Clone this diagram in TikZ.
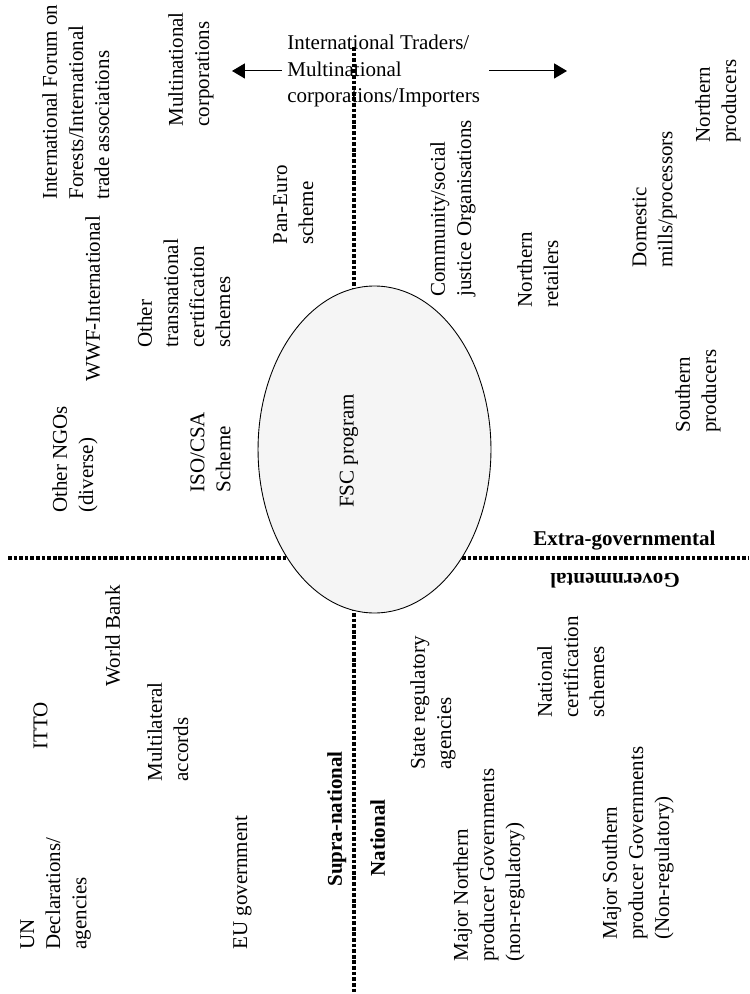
\documentclass[tikz,border=0pt]{standalone}
\usepackage{fontspec}
\setmainfont{Liberation Serif}
\usetikzlibrary{shapes.geometric,arrows.meta}

\begin{document}
\begin{tikzpicture}[x=0.571pt,y=-0.571pt,
    font=\fontsize{12pt}{14.9pt}\selectfont,
    actor/.style={rotate=90,anchor=north west,align=left,inner sep=0pt},
    divide/.style={line width=1.8pt,dash pattern=on 2.1pt off 1.1pt},
    flow/.style={-{Triangle[length=7.3pt,width=8.5pt]},line width=0.6pt}]
    \useasboundingbox (0,0) rectangle (749,994);
    \coordinate (vtop) at (354,47);
    \coordinate (vbot) at (354,994);
    \coordinate (hleft) at (8,558);
    \coordinate (hright) at (749,558);
    \draw[divide] (vtop) -- (vbot);
    \draw[divide] (hleft) -- (hright);
    \node[ellipse,draw,fill=gray!8,line width=0.5pt,inner sep=0pt,
        minimum width=133pt,minimum height=186.7pt] (fsc) at (374.5,449.5) {};
    \node[rotate=90] (fsclabel) at (349,451) {FSC program};
    \node[actor] (forum) at (42,200) {International Forum on\\Forests/International\\trade associations};
    \node[actor] (multinat) at (168,127) {Multinational\\corporations};
    \node[anchor=north west,align=left,inner sep=0pt] (traders) at (287,35)
        {International Traders/\\Multinational\\corporations/Importers};
    \coordinate (lhead) at (232,74);
    \coordinate (rhead) at (567,72);
    \draw[flow] ([xshift=-3pt]traders.west) -- (traders.west -| lhead);
    \draw[flow] ([xshift=5pt]traders.east) -- (traders.east -| rhead);
    \node[actor] (paneuro) at (273,245) {Pan-Euro\\scheme};
    \node[actor] (othertrans) at (137,348) {Other\\transnational\\certification\\schemes};
    \node[actor] (wwf) at (85,382) {WWF-International};
    \node[actor] (otherngo) at (52,513) {Other NGOs\\(diverse)};
    \node[actor] (isocsa) at (190,493) {ISO/CSA\\Scheme};
    \node[actor] (worldbank) at (105,687) {World Bank};
    \node[actor] (itto) at (33,750) {ITTO};
    \node[actor] (multilat) at (147,782) {Multilateral\\accords};
    \node[actor] (un) at (20,950) {UN\\Declarations/\\agencies};
    \node[actor] (eu) at (233,950) {EU government};
    \node[actor] (supra) at (327,887) {\textbf{Supra-national}};
    \node[actor] (national) at (370,877) {\textbf{National}};
    \node[actor] (statereg) at (410,770) {State regulatory\\agencies};
    \node[actor] (natcert) at (537,718) {National\\certification\\schemes};
    \node[actor] (majnorth) at (453,962) {Major Northern\\producer Governments\\(non-regulatory)};
    \node[actor] (majsouth) at (602,940) {Major Southern\\producer Governments\\(Non-regulatory)};
    \node[rotate=180,inner sep=0pt] (govt) at (615,581) {\textbf{Governmental}};
    \node[anchor=base west,inner sep=0pt] (extragov) at (533,545) {\textbf{Extra-governmental}};
    \node[actor] (southprod) at (675,433) {Southern\\producers};
    \node[actor] (community) at (430,297) {Community/social\\justice Organisations};
    \node[actor] (northret) at (517,308) {Northern\\retailers};
    \node[actor] (domestic) at (632,268) {Domestic\\mills/processors};
    \node[actor] (northprod) at (695,143) {Northern\\producers};
\end{tikzpicture}
\end{document}
